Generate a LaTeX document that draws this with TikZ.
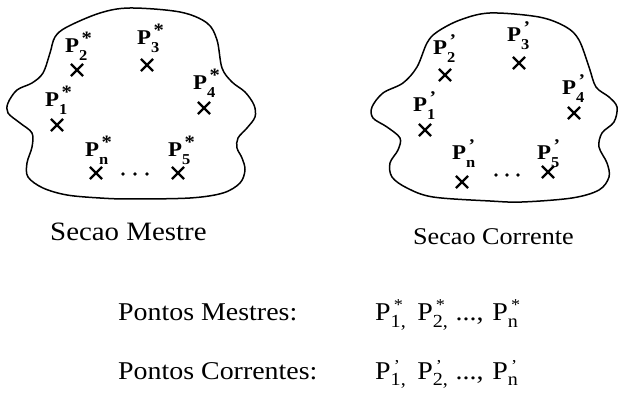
\documentclass[tikz,border=0pt]{standalone}
\usepackage{fontspec}
\setmainfont[FakeStretch=1.09]{Liberation Serif}
\usetikzlibrary{shapes.misc}
% #1 sub, #2 sup, #3 raise of sup, #4 drop of sub, #5 scale of sup
\newcommand\Pt[5]{P\rlap{\kern0.12em\raisebox{#3}{\scalebox{#5}{#2}}}\raisebox{-#4}{\scalebox{0.72}{#1}}}
\newcommand\Lst[1]{\Pt{#1}{*}{0.40em}{0.36em}{0.9}}
\newcommand\Lpr[1]{\Pt{#1}{'}{0.42em}{0.36em}{0.85}}
\newcommand\Bst[1]{\Pt{#1}{*}{0.40em}{0.24em}{0.65}}
\newcommand\Bpr[1]{\Pt{#1}{'}{0.30em}{0.24em}{0.65}}
\tikzset{
  outline/.style={line width=1.5pt, line join=round},
  lbl/.style={anchor=base west, inner sep=0pt, font=\fontsize{21}{22}\selectfont\bfseries},
  pt/.style={cross out, draw, line width=2.2pt, minimum size=10pt, inner sep=0pt},
  dotc/.style={circle, fill, inner sep=0pt, minimum size=3.6pt},
  captxt/.style={anchor=base west, inner sep=0pt},
}
\begin{document}
\begin{tikzpicture}[x=1pt, y=-1pt]
\useasboundingbox (0,0) rectangle (619,398);
% left section
\draw[outline] plot[smooth cycle, tension=0.55] coordinates {
 (130,8) (180,12) (207,23) (217,40) (222,68) (232,82) (245,92) (254,105) (255,117)
 (247,128) (238,138) (237,148) (242,158) (245,170) (240,183) (223,193) (190,198)
 (130,199) (100,198) (67,195) (43,188) (28,177) (27,163) (32,147) (32,133) (20,123)
 (8,113) (8,103) (17,90) (32,83) (43,73) (50,53) (55,37) (67,27) (100,13)};
% right section
\draw[outline] plot[smooth cycle, tension=0.55] coordinates {
 (490,13) (539,17) (566,27) (579,40) (589,67) (596,87) (609,97) (617,107) (614,122)
 (602,133) (599,147) (607,163) (609,177) (599,190) (572,198) (522,202) (490,201)
 (433,197) (407,188) (392,177) (390,163) (398,150) (400,138) (387,127) (373,118)
 (372,107) (383,93) (403,83) (417,67) (427,43) (437,32) (460,20)};
% left points
\node[pt] (m1) at (57,125) {};
\node[pt] (m2) at (77,70) {};
\node[pt] (m3) at (147,65) {};
\node[pt] (m4) at (204,108) {};
\node[pt] (m5) at (178,173) {};
\node[pt] (mn) at (96,173) {};
\node[dotc] (md1) at (123,174) {};
\node[dotc] (md2) at (135,174) {};
\node[dotc] (md3) at (147,174) {};
\node[lbl] (lm1) at (45,107) {\Lst{1}};
\node[lbl] (lm2) at (65,53) {\Lst{2}};
\node[lbl] (lm3) at (137,45) {\Lst{3}};
\node[lbl] (lm4) at (193,90) {\Lst{4}};
\node[lbl] (lm5) at (168,157) {\Lst{5}};
\node[lbl] (lmn) at (85,157) {\Lst{n}};
% right points
\node[pt] (c1) at (425,130) {};
\node[pt] (c2) at (445,75) {};
\node[pt] (c3) at (519,63) {};
\node[pt] (c4) at (574,113) {};
\node[pt] (c5) at (548,172) {};
\node[pt] (cn) at (462,182) {};
\node[dotc] (cd1) at (496,175) {};
\node[dotc] (cd2) at (507,175) {};
\node[dotc] (cd3) at (518,175) {};
\node[lbl] (lc1) at (413,112) {\Lpr{1}};
\node[lbl] (lc2) at (433,55) {\Lpr{2}};
\node[lbl] (lc3) at (507,42) {\Lpr{3}};
\node[lbl] (lc4) at (562,95) {\Lpr{4}};
\node[lbl] (lc5) at (537,160) {\Lpr{5}};
\node[lbl] (lcn) at (452,160) {\Lpr{n}};
% captions
\node[captxt, font=\fontsize{26.5}{28}\selectfont] (sm) at (50,241) {Secao Mestre};
\node[captxt, font=\fontsize{24}{26}\selectfont] (sc) at (413,245) {Secao Corrente};
\node[captxt, font=\fontsize{25.6}{27}\selectfont] (pm) at (118,321) {Pontos Mestres:};
\node[captxt, font=\fontsize{25.6}{27}\selectfont] (pc) at (118,379) {Pontos Correntes:};
\node[captxt, font=\fontsize{25.6}{27}\selectfont] (fm) at (375,321) {\Bst{1,}\hspace{0.45em}\Bst{2,}\hspace{0.3em}...,\hspace{0.35em}\Bst{n}};
\node[captxt, font=\fontsize{25.6}{27}\selectfont] (fc) at (375,379) {\Bpr{1,}\hspace{0.45em}\Bpr{2,}\hspace{0.3em}...,\hspace{0.35em}\Bpr{n}};
\end{tikzpicture}
\end{document}
